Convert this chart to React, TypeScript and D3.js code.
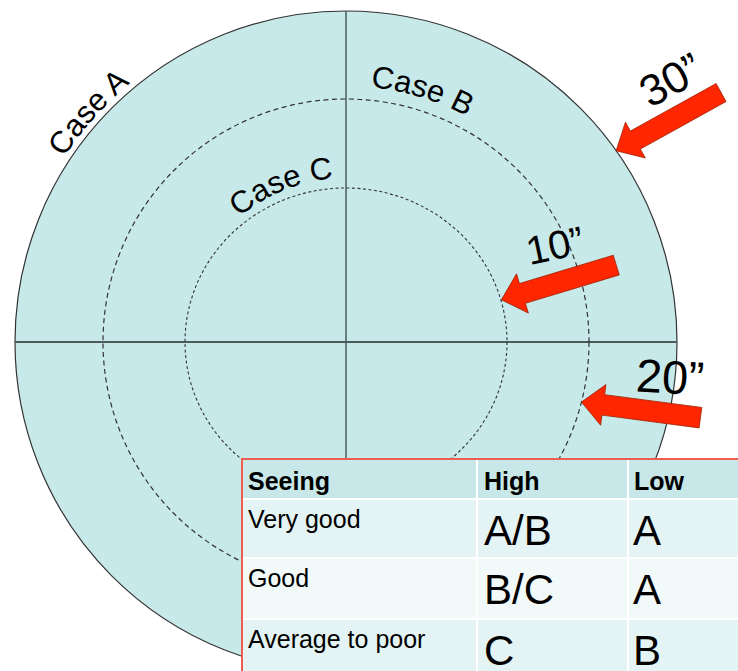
import React from "react";
import * as d3 from "d3";

// ring values (inches) and their labels
const ringValues = [10, 20, 30];
const ringLabels = ["10”", "20”", "30”"];
// angle (deg, screen) where each arrow hits its ring, and arrow heading
const arrowHitAngles = [-15.2, 14.3, -35.3];
const arrowHeadings = [-16.8, 7.5, -29];

const caseNames = ["Case A", "Case B", "Case C"];
const caseRings = [30, 20, 10];
const caseAngles = [221.7, 286.9, 247.5];

const tableHeader = ["Seeing", "High", "Low"];
const seeingRows = ["Very good", "Good", "Average to poor"];
const highCases = ["A/B", "B/C", "C"];
const lowCases = ["A", "A", "B"];

const W = 738;
const H = 671;
const cx = 346;
const cy = 342;
const FONT = "'Liberation Sans', Arial, Helvetica, sans-serif";

const App = () => {
  const r = d3.scaleLinear().domain([10, 20, 30]).range([161, 243, 331]);
  const rOuter = r(30);

  // text sits a little outside each ring
  const labelGap = { 30: 6, 20: 13, 10: 3 } as any;

  const arcPath = (rad: number) => {
    const p = d3.path();
    p.arc(cx, cy, rad, Math.PI, 2 * Math.PI, false);
    return p.toString();
  };

  const arrowLen = 120;
  const headLen = 22;
  const headHalf = 20.5;
  const shaftHalf = 10.3;

  const arrows = ringValues.map((v, i) => {
    const a = (arrowHitAngles[i] * Math.PI) / 180;
    const tip = [cx + r(v) * Math.cos(a), cy + r(v) * Math.sin(a)];
    const h = (arrowHeadings[i] * Math.PI) / 180;
    const u = [Math.cos(h), Math.sin(h)];
    const n = [-u[1], u[0]];
    const pt = (al: number, pp: number) => [
      tip[0] + u[0] * al + n[0] * pp,
      tip[1] + u[1] * al + n[1] * pp,
    ];
    const pts = [
      tip,
      pt(headLen, headHalf),
      pt(headLen, shaftHalf),
      pt(arrowLen, shaftHalf),
      pt(arrowLen, -shaftHalf),
      pt(headLen, -shaftHalf),
      pt(headLen, -headHalf),
    ];
    const mid = pt(arrowLen / 2, 0);
    return { pts, mid, heading: arrowHeadings[i] };
  });

  // label placement relative to each arrow's middle
  const labelOffsets = [
    [-4, -37, -12, 40],
    [29, -33, 3, 47],
    [2, -42, -29, 44],
  ];

  const line = d3.line();

  const colEdges = [242, 477, 628, 760];
  const rowEdges = [459, 499, 558, 619, 690];
  const rowFills = ["#c7e7e8", "#e4f3f3", "#f1f9f9", "#e4f3f3"];

  return (
    <svg
      width={W}
      height={H}
      style={{ position: "absolute", left: 0, top: 0, background: "#fff" }}
      fontFamily={FONT}
    >
      <defs>
        {caseNames.map((c, i) => (
          <path
            key={c}
            id={`casePath${i}`}
            d={arcPath(r(caseRings[i]) + labelGap[caseRings[i]])}
            fill="none"
          />
        ))}
      </defs>

      <circle cx={cx} cy={cy} r={rOuter} fill="#c8e9ea" stroke="#333" strokeWidth={1.2} />
      <line x1={cx - rOuter} x2={cx + rOuter} y1={cy} y2={cy} stroke="#4d5a5a" strokeWidth={1.8} />
      <line x1={cx} x2={cx} y1={cy - rOuter} y2={cy + rOuter} stroke="#4d5a5a" strokeWidth={1.5} />

      <ellipse cx={cx} cy={cy} rx={r(10)} ry={r(10) - 7} fill="none" stroke="#333" strokeWidth={1.1} strokeDasharray="3 2.5" />
      <circle cx={cx} cy={cy} r={r(20)} fill="none" stroke="#333" strokeWidth={1.2} strokeDasharray="5 3.5" />

      {caseNames.map((c, i) => (
        <text key={c} fontSize={31} fill="#000">
          <textPath
            href={`#casePath${i}`}
            startOffset={`${((caseAngles[i] - 180) / 180) * 100}%`}
            textAnchor="middle"
          >
            {c}
          </textPath>
        </text>
      ))}

      {arrows.map((a, i) => (
        <g key={i}>
          <path d={line(a.pts as any) + "Z"} fill="#ff2600" stroke="#9a1f00" strokeWidth={0.8} strokeLinejoin="miter" />
          <text
            transform={`translate(${a.mid[0] + labelOffsets[i][0]},${a.mid[1] + labelOffsets[i][1]}) rotate(${labelOffsets[i][2]})`}
            textAnchor="middle"
            dominantBaseline="central"
            fontSize={labelOffsets[i][3]}
            fill="#000"
          >
            {ringLabels[i]}
          </text>
        </g>
      ))}

      {/* table */}
      <g>
        {rowFills.map((f, ri) =>
          colEdges.slice(0, -1).map((x0, ci) => (
            <rect
              key={`${ri}-${ci}`}
              x={x0}
              y={rowEdges[ri]}
              width={colEdges[ci + 1] - x0}
              height={rowEdges[ri + 1] - rowEdges[ri]}
              fill={f}
              stroke="#fff"
              strokeWidth={2}
            />
          ))
        )}
        <rect x={242} y={459} width={560} height={260} fill="none" stroke="#ee5c52" strokeWidth={2} />
        {tableHeader.map((t, i) => (
          <text key={t} x={[248, 484, 634][i]} y={490} fontSize={25} fontWeight="bold" fill="#000">
            {t}
          </text>
        ))}
        {seeingRows.map((t, i) => (
          <text key={t} x={248} y={rowEdges[i + 1] + 29} fontSize={25} fill="#000">
            {t}
          </text>
        ))}
        {highCases.map((t, i) => (
          <text key={i} x={484} y={rowEdges[i + 1] + 46} fontSize={42} fill="#000">
            {t}
          </text>
        ))}
        {lowCases.map((t, i) => (
          <text key={i} x={633} y={rowEdges[i + 1] + 46} fontSize={42} fill="#000">
            {t}
          </text>
        ))}
      </g>
    </svg>
  );
};

export default App;
